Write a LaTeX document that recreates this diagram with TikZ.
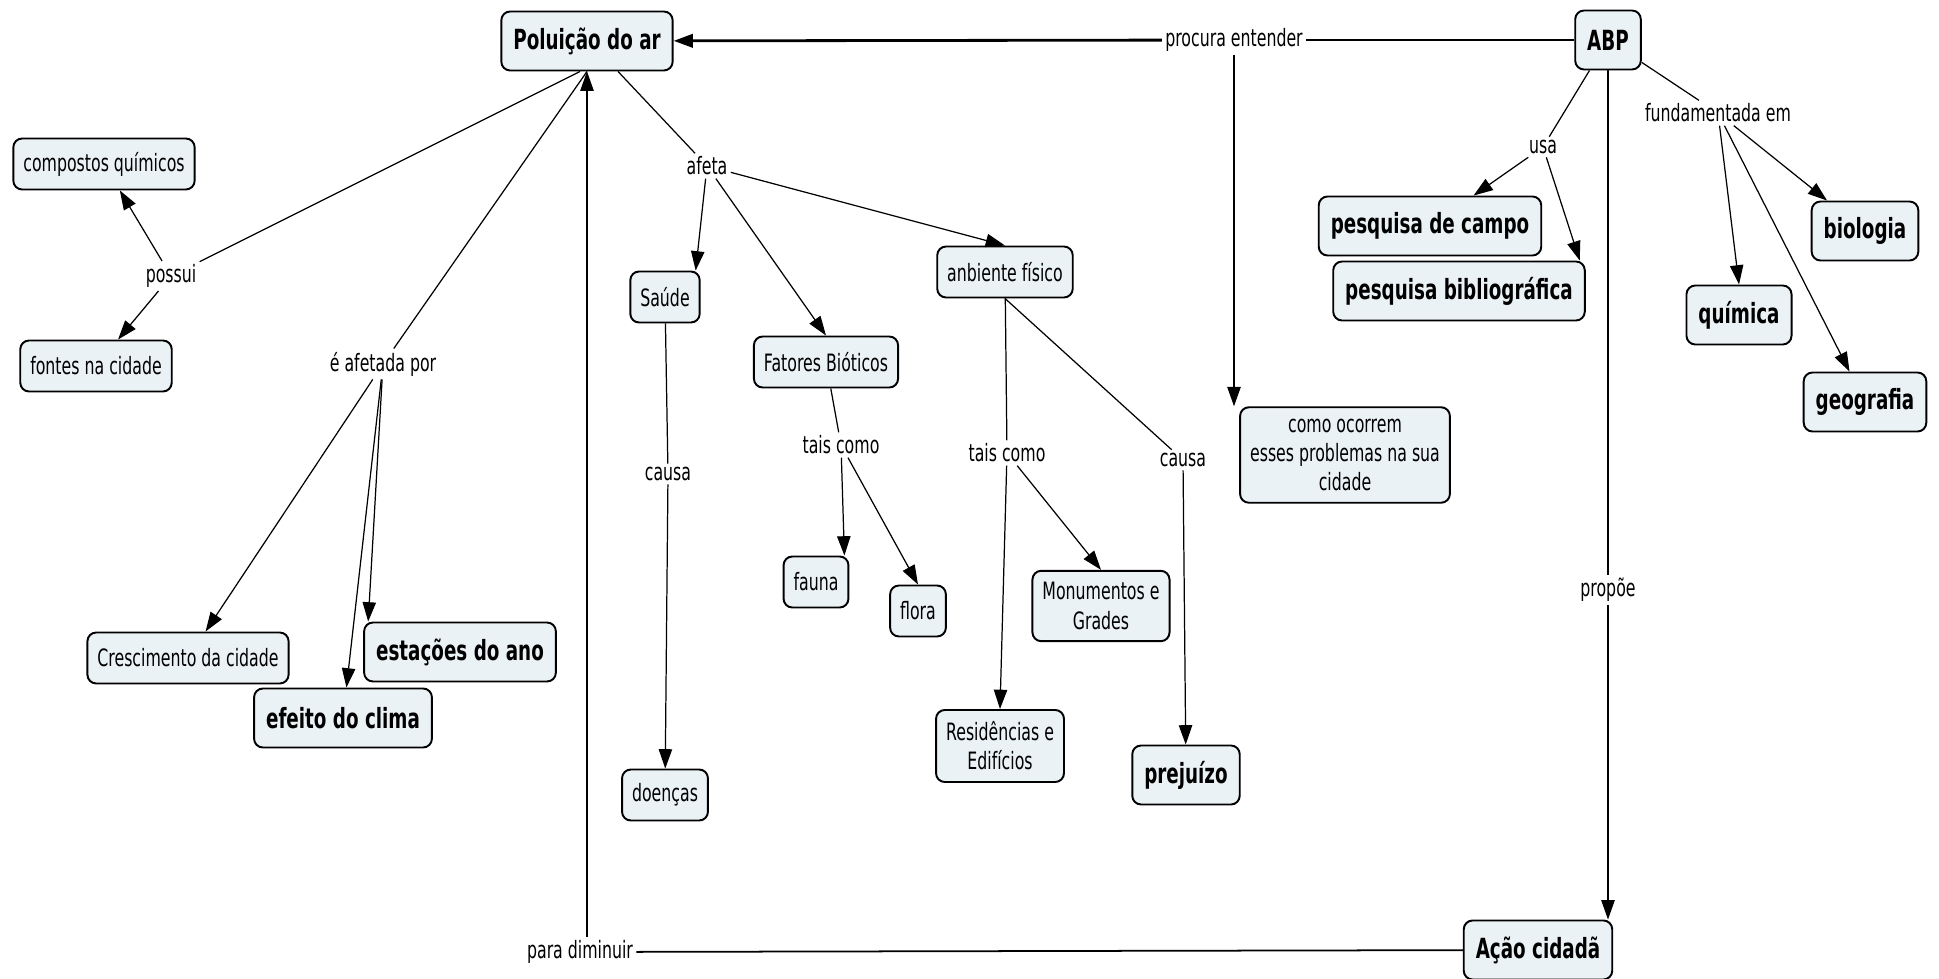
\documentclass[tikz,border=0pt]{standalone}
\usepackage{fontspec}
\setmainfont{DejaVu Sans}[FakeStretch=0.66]
\usetikzlibrary{shapes,arrows.meta}
\definecolor{cmapfill}{RGB}{235,242,245}
\tikzstyle{concept} = [draw, fill=cmapfill, rectangle, rounded corners=2.5pt,
    line width=0.55pt, minimum height=0.51cm, inner xsep=0.1cm,
    align=center, font=\fontsize{6.8}{8.3}\selectfont]
\tikzstyle{bconcept} = [concept, minimum height=0.59cm, inner xsep=0.12cm,
    font=\fontsize{7.9}{9.5}\selectfont\bfseries]
\tikzstyle{phrase} = [inner sep=0.8pt, font=\fontsize{6.8}{8.3}\selectfont]
\tikzstyle{arr} = [-{Triangle[length=5.5pt,width=3.8pt]}]

\begin{document}
\begin{tikzpicture}[line width=0.35pt]
\useasboundingbox (0,0) rectangle (19.39,9.78);

\node[bconcept, name=pol] at (5.87,9.37) {Poluição do ar};
\node[bconcept, name=abp] at (16.08,9.38) {ABP};
\node[concept, name=comp] at (1.04,8.14) {compostos químicos};
\node[concept, name=fontes] at (0.96,6.12) {fontes na cidade};
\node[concept, name=cresc] at (1.88,3.20) {Crescimento da cidade};
\node[bconcept, name=estac] at (4.60,3.26) {estações do ano};
\node[bconcept, name=efeito] at (3.43,2.60) {efeito do clima};
\node[concept, name=saude] at (6.65,6.81) {Saúde};
\node[concept, name=fatores] at (8.26,6.16) {Fatores Bióticos};
\node[concept, name=ambiente] at (10.05,7.06) {anbiente físico};
\node[concept, name=fauna] at (8.16,3.96) {fauna};
\node[concept, name=flora] at (9.18,3.67) {flora};
\node[concept, name=monum] at (11.01,3.72) {Monumentos e\\Grades};
\node[concept, name=resid] at (10.00,2.32) {Residências e\\Edifícios};
\node[bconcept, name=prejuizo] at (11.86,2.03) {prejuízo};
\node[concept, name=doencas] at (6.65,1.83) {doenças};
\node[concept, name=como] at (13.45,5.23) {como ocorrem\\esses problemas na sua\\cidade};
\node[bconcept, name=biblio] at (14.59,6.87) {pesquisa bibliográfica};
\node[bconcept, name=campo] at (14.30,7.52) {pesquisa de campo};
\node[bconcept, name=quimica] at (17.39,6.63) {química};
\node[bconcept, name=biologia] at (18.65,7.47) {biologia};
\node[bconcept, name=geografia] at (18.65,5.76) {geografia};
\node[bconcept, name=acao] at (15.38,0.28) {Ação cidadã};

\node[phrase, name=procura] at (12.34,9.38) {procura entender};
\node[phrase, name=possui] at (1.71,7.02) {possui};
\node[phrase, name=afetada] at (3.83,6.14) {é afetada por};
\node[phrase, name=afeta] at (7.07,8.12) {afeta};
\node[phrase, name=causaA] at (6.68,5.04) {causa};
\node[phrase, name=taisA] at (8.41,5.33) {tais como};
\node[phrase, name=taisB] at (10.07,5.25) {tais como};
\node[phrase, name=causaB] at (11.83,5.18) {causa};
\node[phrase, name=usa] at (15.43,8.31) {usa};
\node[phrase, name=fund] at (17.18,8.65) {fundamentada em};
\node[phrase, name=propoe] at (16.08,3.88) {propõe};
\node[phrase, name=paradim] at (5.80,0.26) {para diminuir};

\draw[line width=0.8pt] (abp) -- (procura);
\draw[arr, line width=0.8pt] (procura) -- (pol);
\draw[arr] (procura) -- (procura |- como.north);

\draw ([xshift=-0.07cm]pol.south) -- (possui);
\draw[arr] (possui) -- (comp);
\draw[arr] (possui) -- (fontes);

\draw (pol.south) -- (afetada);
\draw[arr] (afetada) -- (cresc);
\draw[arr] (afetada) -- ([xshift=0.05cm]estac.north west);
\draw[arr] (afetada) -- (efeito);

\draw ([xshift=0.31cm]pol.south) -- (afeta);
\draw[arr] (afeta) -- ([xshift=-0.05cm]saude.north east);
\draw[arr] (afeta) -- (fatores.north);
\draw[arr] (afeta) -- (ambiente.north);

\draw (saude) -- (causaA);
\draw[arr] (causaA) -- (doencas);

\draw (fatores) -- (taisA);
\draw[arr] (taisA) -- ([xshift=-0.05cm]fauna.north east);
\draw[arr] (taisA) -- (flora.north);

\draw (ambiente) -- (taisB);
\draw[arr] (taisB) -- (resid.north);
\draw[arr] (taisB) -- (monum.north);
\draw (ambiente.south) -- (causaB);
\draw[arr] (causaB) -- (prejuizo);

\draw (abp) -- (usa);
\draw[arr] (usa) -- (campo);
\draw[arr] (usa) -- ([xshift=-0.06cm]biblio.north east);
\draw (abp) -- (fund);
\draw[arr] (fund) -- (biologia);
\draw[arr] (fund) -- (quimica.north);
\draw[arr] (fund) -- (geografia);

\draw (abp) -- (propoe);
\draw[arr] (propoe) -- (propoe |- acao.north);
\draw[line width=0.5pt] (acao) -- (paradim);
\draw[arr] (paradim.north -| pol) -- (pol);
\end{tikzpicture}
\end{document}
